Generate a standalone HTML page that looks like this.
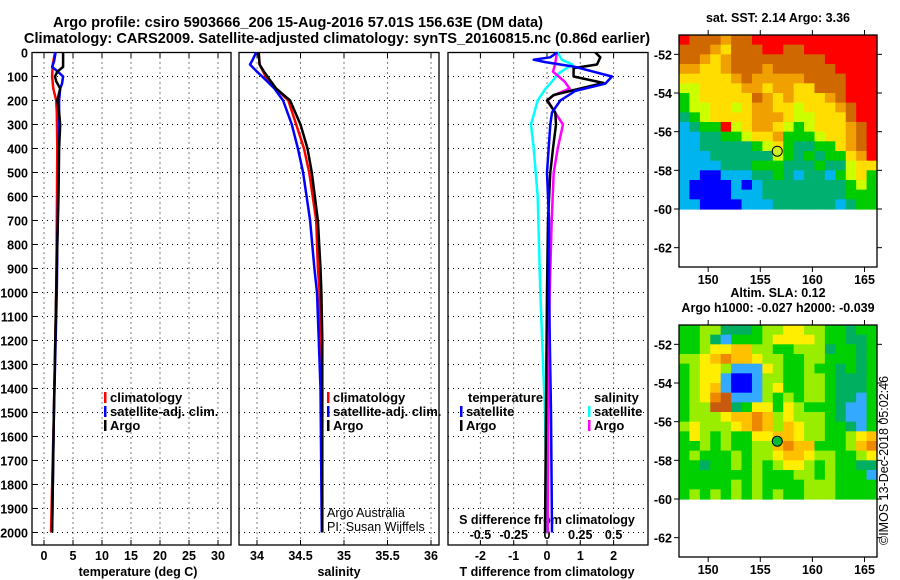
<!DOCTYPE html>
<html><head><meta charset="utf-8">
<style>
body{margin:0;background:#fff;}
svg{display:block;font-family:"Liberation Sans",sans-serif;}
.t{font-weight:bold;fill:#000;}
.tk{font-weight:bold;font-size:12.5px;fill:#000;}
.lg{font-weight:bold;font-size:13px;fill:#000;}
</style></head>
<body>
<svg id="fig" width="900" height="580" viewBox="0 0 900 580">
<text class="t" x="298" y="27" text-anchor="middle" style="font-size:14.6px">Argo profile: csiro 5903666_206 15-Aug-2016 57.01S 156.63E (DM data)</text>
<text class="t" x="337" y="43" text-anchor="middle" style="font-size:14.6px">Climatology: CARS2009. Satellite-adjusted climatology: synTS_20160815.nc (0.86d earlier)</text>
<g id="g"></g>
</svg>
<script>
// ---- data ----
const depthTicks=[0,100,200,300,400,500,600,700,800,900,1000,1100,1200,1300,1400,1500,1600,1700,1800,1900,2000];
const tempTicks=[0,5,10,15,20,25,30];
const salTicks=[34,34.5,35,35.5,36];
const salTickLabels=["34","34.5","35","35.5","36"];
const tdiffTicks=[-2,-1,0,1,2];
const sdiffTicks=[-0.5,-0.25,0,0.25,0.5];
const sdiffLabels=["-0.5","-0.25","0","0.25","0.5"];

const tClimD=[0,50,100,150,200,250,400,700,1000,1500,2000];
const tClimV=[1.9,1.5,1.4,1.6,2.1,2.2,2.3,2.2,2.1,1.7,1.2];
const tSatD=[0,40,60,80,100,130,150,200,300,500,800,1000,1500,2000];
const tSatV=[2.0,1.7,1.4,2.4,3.3,3.1,2.8,2.6,2.6,2.5,2.3,2.2,1.7,1.4];
const tArgoD=[0,60,80,100,120,150,200,250,300,400,600,800,1000,1500,2000];
const tArgoV=[3.3,3.3,2.3,1.9,2.1,2.8,2.3,2.6,2.8,2.6,2.5,2.3,2.1,1.7,1.4];

const sClimD=[0,50,100,150,200,300,400,500,700,900,1000,1200,1400,2000];
const sClimV=[34.02,34.03,34.10,34.22,34.36,34.45,34.54,34.60,34.68,34.70,34.72,34.73,34.74,34.745];
const sSatD=[0,30,50,80,100,150,200,300,400,500,700,900,1000,1200,1400,2000];
const sSatV=[33.99,33.95,33.92,34.0,34.06,34.2,34.3,34.40,34.47,34.53,34.61,34.66,34.69,34.71,34.73,34.745];
const sArgoD=[0,50,80,100,150,200,300,400,500,700,900,1000,1200,1400,2000];
const sArgoV=[34.02,34.03,34.08,34.12,34.22,34.38,34.50,34.58,34.63,34.70,34.73,34.74,34.75,34.75,34.75];

const dTArgoD=[0,20,50,65,100,127,150,177,200,250,300,400,500,700,1000,1500,2000];
const dTArgoV=[1.45,1.6,1.5,0.8,0.8,1.7,1.0,0.2,0,0.25,0.27,0.18,0.1,0.03,0,-0.03,-0.06];
const dTSatD=[0,20,30,40,60,100,130,160,200,250,300,500,700,1000,1500,2000];
const dTSatV=[0.3,0.1,-0.4,-0.05,0.85,1.95,1.75,0.85,0.4,0.15,0.1,0.0,0.06,0.06,0.12,0.15];
const dSSatD=[0,30,50,90,120,150,200,300,400,600,800,1000,1500,2000];
const dSSatV=[0.08,0.11,0.19,0.08,0.04,-0.01,-0.07,-0.12,-0.1,-0.07,-0.06,-0.05,-0.015,0.0];
const dSArgoD=[0,50,80,120,150,180,200,250,300,400,500,700,1000,1500,2000];
const dSArgoV=[0.075,0.06,0.045,0.13,0.17,0.045,0.005,0.06,0.12,0.08,0.05,0.035,0.02,0.01,0.005];

const lonTicks=[150,155,160,165];
const latTicks=[-52,-54,-56,-58,-60,-62];
const sstGrid=[
"8777677888888888888","7776577788778888888","7765677777777788888","6655677767777778888",
"5555567666667777888","4455556656655777888","3455555765655567888","3445545665545556788",
"2345555666544555788","1233845665434555678","1122334556333455678","1122222345322335678",
"1112222224323233568","1111222333222322455","1100111223212213453","1000010122222222343",
"1000011122222222333","1100001112222221233"];
const slaGrid=[
"3344222344554433233","3342133345555433223","3345566443344423323","4456766544334433323",
"3455411154334332323","3455100144334432223","3456100145334432223","3457811143434432213",
"3448823553543332113","3444566764544432113","4544456764654433213","3543433556654433456",
"3343433446766333467","3433343445665443345","3323343434554343322","3333333433344343331",
"3333343433334443333","3434343434334443333"];
const sstColors=["#0000ff","#00b4f0","#00b070","#00cc00","#ccff00","#ffdd00","#f0a000","#d06800","#ff0000"];
const slaColors=["#0000ff","#33aaff","#00b060","#00d000","#99ee00","#ffee00","#ffc000","#ee8800","#c85a10"];
const floatLon=156.63, floatLat=-57.01;

// ---- drawing ----
const NS="http://www.w3.org/2000/svg";
const G=document.getElementById('g');
function mk(tag,attrs,parent){const e=document.createElementNS(NS,tag);for(const k in attrs)e.setAttribute(k,attrs[k]);(parent||G).appendChild(e);return e;}
const top0=52.5, ppm=0.24, bot=545;
const yD=d=>top0+d*ppm;
const xT=t=>44+5.8*t;
const xS=s=>257+87*(s-34);
const xDT=t=>547+33.3*t;
const xDS=s=>547+133.2*s;

function panelFrame(x0,x1,name){
  const g=mk('g',{});
  
  
  depthTicks.forEach(d=>{const y=yD(d);
    const l=mk('line',{x1:x0,x2:x1,y1:y,y2:y,stroke:'#000','stroke-width':1,'stroke-dasharray':'1,4'},g);
    
    
  });
  const r=mk('rect',{x:x0,y:top0,width:x1-x0,height:bot-top0,fill:'none',stroke:'#000','stroke-width':1.3},g);
  
  
  return g;
}
function vgrid(g,xs){xs.forEach(x=>{const l=mk('line',{x1:x,x2:x,y1:top0,y2:bot,stroke:'#000','stroke-width':1,'stroke-dasharray':'1,4'},g);
  
  
  mk('line',{x1:x,x2:x,y1:top0,y2:top0+5,stroke:'#000'},g);mk('line',{x1:x,x2:x,y1:bot,y2:bot-5,stroke:'#000'},g);});}
function series(D,V,fx,color,name,w){
  const pts=D.map((d,i)=>fx(V[i]).toFixed(1)+','+yD(d).toFixed(1)).join(' ');
  const p=mk('polyline',{points:pts,fill:'none',stroke:color,'stroke-width':w||2.5,'stroke-linejoin':'round'});
  
  
}
function txt(x,y,s,cls,anchor,name,extra,parent){const t=mk('text',Object.assign({x:x,y:y,class:cls,'text-anchor':anchor||'start'},extra||{}),parent);t.textContent=s;
  
  
  return t;}

const p1=panelFrame(32,231,'temperature-panel');
const p2=panelFrame(239,439,'salinity-panel');
const p3=panelFrame(448,648,'difference-panel');
vgrid(p1,tempTicks.map(xT));vgrid(p2,salTicks.map(xS));vgrid(p3,tdiffTicks.map(xDT));
depthTicks.forEach(d=>{txt(28,yD(d)+5,String(d),'tk','end','depth-tick-label');
  mk('line',{x1:32,x2:37,y1:yD(d),y2:yD(d),stroke:'#000'});});
tempTicks.forEach(t=>txt(xT(t),560,String(t),'tk','middle','temp-tick-label'));
salTicks.forEach((s,i)=>txt(xS(s),560,salTickLabels[i],'tk','middle','salinity-tick-label'));
tdiffTicks.forEach(t=>txt(xDT(t),560,String(t),'tk','middle','tdiff-tick-label'));
sdiffTicks.forEach((s,i)=>txt(xDS(s),539,sdiffLabels[i],'tk','middle','sdiff-tick-label'));
txt(138,576,'temperature (deg C)','tk','middle','temp-axis-title');
txt(339,576,'salinity','tk','middle','salinity-axis-title');
txt(547,576,'T difference from climatology','tk','middle','tdiff-axis-title');
txt(547,524,'S difference from climatology','tk','middle','sdiff-axis-title');

series(tClimD,tClimV,xT,'#ff0000','temp-climatology-line');
series(tSatD,tSatV,xT,'#0000ff','temp-satellite-line');
series(tArgoD,tArgoV,xT,'#000000','temp-argo-line');
series(sClimD,sClimV,xS,'#ff0000','sal-climatology-line');
series(sSatD,sSatV,xS,'#0000ff','sal-satellite-line');
series(sArgoD,sArgoV,xS,'#000000','sal-argo-line');
series(dSSatD,dSSatV,xDS,'#00ffff','sdiff-satellite-line');
series(dSArgoD,dSArgoV,xDS,'#ff00ff','sdiff-argo-line');
series(dTArgoD,dTArgoV,xDT,'#000000','tdiff-argo-line');
series(dTSatD,dTSatV,xDT,'#0000ff','tdiff-satellite-line');

function legend(x,y,items,name){items.forEach((it,i)=>{
  const r=mk('rect',{x:x,y:y+i*14-10,width:2.5,height:11,fill:it[1]});
  
  
  txt(x+6,y+i*14,it[0],'lg','start',name+'-label');});}
legend(104,402,[['climatology','#f00'],['satellite-adj. clim.','#00f'],['Argo','#000']],'temp-legend');
legend(327,402,[['climatology','#f00'],['satellite-adj. clim.','#00f'],['Argo','#000']],'sal-legend');
txt(468,402,'temperature','lg','start','tdiff-legend-heading');
legend(460,416,[['satellite','#00f'],['Argo','#000']],'tdiff-legend');
txt(594,402,'salinity','lg','start','sdiff-legend-heading');
legend(588,416,[['satellite','#0ff'],['Argo','#f0f']],'sdiff-legend');
txt(327,517,'Argo Australia','', 'start','credit-line-1',{'font-size':12.5});
txt(327,531,'PI: Susan Wijffels','', 'start','credit-line-2',{'font-size':12.5});

function map(y0,grid,colors,titles,name,dotColor){
  const x0=679,x1=877,y1=y0+232;
  const lon=v=>x0+(v-147.2)*(x1-x0)/19;
  const lat=v=>y0+(-51-v)*(y1-y0)/12;
  const g=mk('g',{});
  
  
  grid.forEach((row,r)=>{for(let c=0;c<row.length;c++){
    const cell=mk('rect',{x:lon(147.2+c).toFixed(2),y:lat(-51-r*0.5).toFixed(2),width:(lon(148.2)-lon(147.2)+0.6).toFixed(2),height:(lat(-51.5)-lat(-51)+0.6).toFixed(2),fill:colors[+row[c]]},g);
    
    
  }});
  const f=mk('rect',{x:x0,y:y0,width:x1-x0,height:y1-y0,fill:'none',stroke:'#000','stroke-width':1.3},g);
  
  
  lonTicks.forEach(v=>{mk('line',{x1:lon(v),x2:lon(v),y1:y0,y2:y0-5,stroke:'#000'},g);mk('line',{x1:lon(v),x2:lon(v),y1:y1,y2:y1+5,stroke:'#000'},g);
    txt(lon(v),y1+17,String(v),'tk','middle','map-lon-label',null,g);});
  latTicks.forEach(v=>{mk('line',{x1:x0,x2:x0-5,y1:lat(v),y2:lat(v),stroke:'#000'},g);mk('line',{x1:x1,x2:x1+5,y1:lat(v),y2:lat(v),stroke:'#000'},g);
    txt(672,lat(v)+5,String(v),'tk','end','map-lat-label',null,g);});
  const dot=mk('circle',{cx:lon(floatLon),cy:lat(floatLat),r:5,fill:dotColor,stroke:'#000','stroke-width':1},g);
  
  
  titles.forEach((t,i)=>txt(778,y0-20+i*15+(titles.length==1?7:-8),t,'tk','middle','map-title',{'font-size':13},g));
}
map(35,sstGrid,sstColors,['sat. SST: 2.14 Argo: 3.36'],'sst-map','#ccee22');
map(325,slaGrid,slaColors,['Altim. SLA: 0.12','Argo h1000: -0.027 h2000: -0.039'],'sla-map','#00bb33');
txt(888,545,'©IMOS 13-Dec-2018 05:02:46','', 'start','copyright-stamp',{'font-size':12.5,transform:'rotate(-90 888 545)'});
</script>
</body></html>
